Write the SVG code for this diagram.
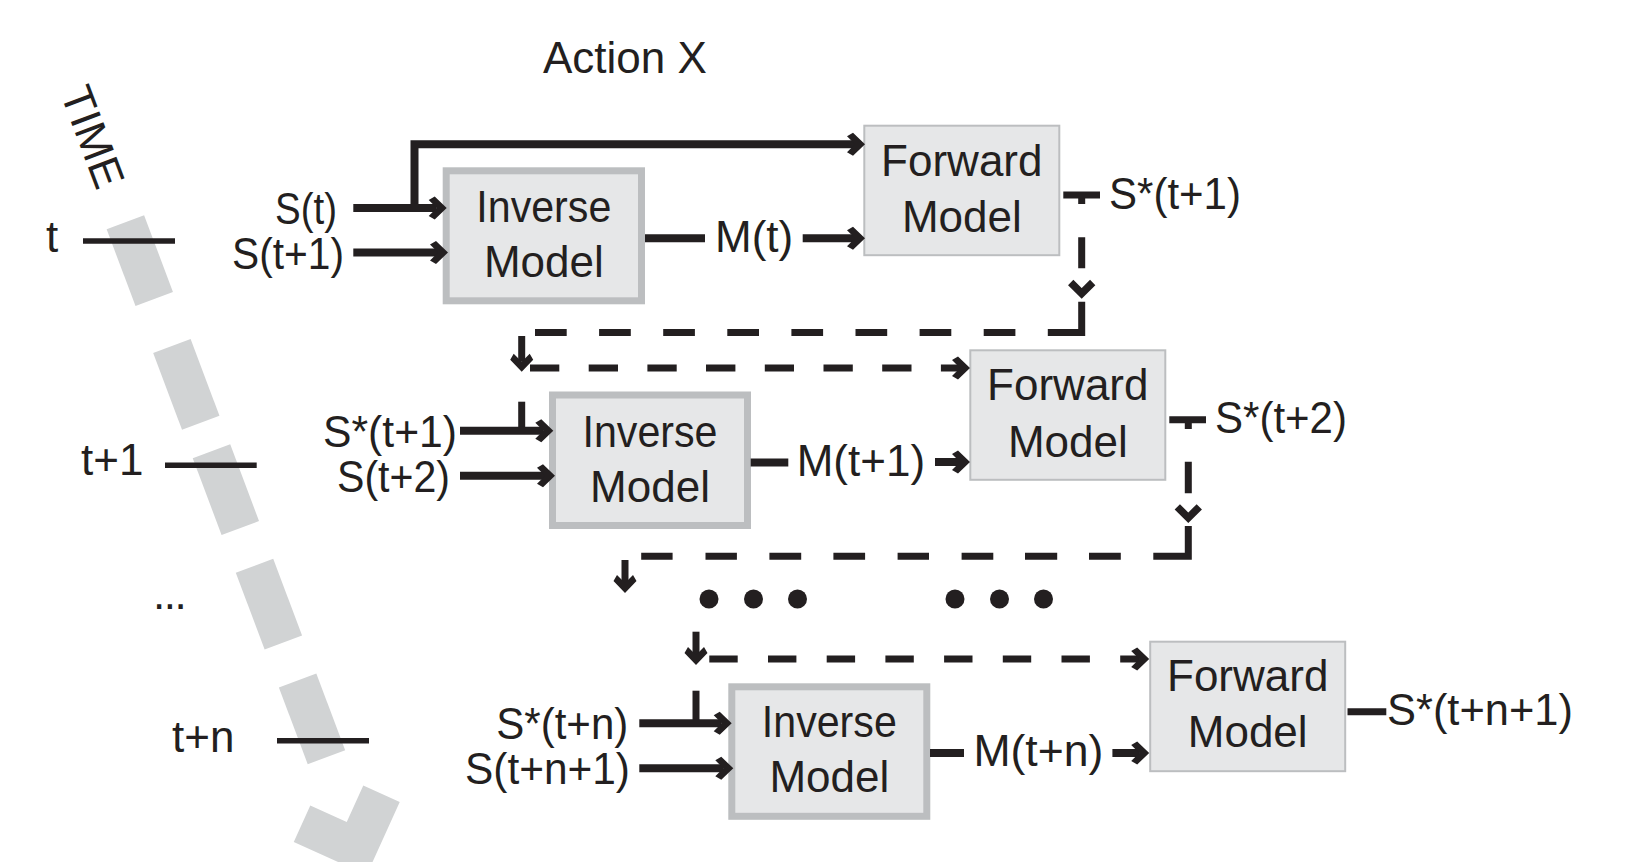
<svg xmlns="http://www.w3.org/2000/svg" width="1641" height="862" viewBox="0 0 1641 862">
<style>
.t{font-family:"Liberation Sans",Arial,sans-serif;font-size:44px;fill:#231f20}
.inv{fill:#e6e7e8;stroke:#bcbec0;stroke-width:7}
.fwd{fill:#e6e7e8;stroke:#bcbec0;stroke-width:2}
.ln{stroke:#231f20;stroke-width:8;fill:none;stroke-linejoin:miter}
.dl{stroke:#231f20;stroke-width:7;fill:none;stroke-linejoin:miter}
.tk{stroke:#231f20;stroke-width:5.5;fill:none}
.gr{fill:#d1d3d4}
.dot{fill:#231f20}
.ah{marker-end:url(#ah)}
</style>
<defs>
<marker id="ah" markerUnits="userSpaceOnUse" markerWidth="40" markerHeight="40" viewBox="-20 -20 40 40" refX="0" refY="0" orient="auto" overflow="visible">
<path d="M10,0 L-2,-11.5 L-8,-8 L0,0 L-8,8 L-2,11.5 Z" fill="#231f20"/>
</marker>
<path id="chev" d="M-11,-10.5 L0,0.5 L11,-10.5" fill="none" stroke="#231f20" stroke-width="7.5" stroke-linejoin="miter"/>
</defs>
<rect width="1641" height="862" fill="#ffffff"/>

<g id="time-arrow" transform="translate(139.8,260.6) rotate(-20.6)">
<rect class="gr" x="-20" y="-41" width="40" height="82"/>
<rect class="gr" x="-20" y="91.2" width="40" height="82"/>
<rect class="gr" x="-20" y="203.7" width="40" height="82"/>
<rect class="gr" x="-20" y="326" width="40" height="82"/>
<rect class="gr" x="-20" y="448.5" width="40" height="82"/>
<polygon class="gr" points="-32.1,570 -3.8,598.3 24.5,570 52.8,598.3 -3.8,654.9 -60.4,598.3"/>
</g>

<g id="time-labels">
<text class="t" x="60" y="93" font-size="35" transform="rotate(69.4 60 93)">TIME</text>
<path class="tk" d="M83,241 H175"/>
<text class="t" x="46" y="252">t</text>
<path class="tk" d="M165,465.3 H256.7"/>
<text class="t" x="81" y="475">t+1</text>
<text class="t" x="153" y="609" font-size="40" letter-spacing="-1.5">...</text>
<path class="tk" d="M277,740.8 H369"/>
<text class="t" x="172" y="751.5">t+n</text>
</g>

<text id="title" class="t" x="543" y="72.7">Action X</text>

<g id="inverse1">
<rect class="inv" x="446.2" y="170.8" width="195.3" height="130"/>
<text class="t" x="543.8" y="221.7" text-anchor="middle" textLength="135" lengthAdjust="spacingAndGlyphs">Inverse</text>
<text class="t" x="543.8" y="276.7" text-anchor="middle">Model</text>
</g>
<g id="forward1">
<rect class="fwd" x="864.3" y="125.7" width="195" height="129.5"/>
<text class="t" x="961.8" y="175.7" text-anchor="middle">Forward</text>
<text class="t" x="961.8" y="231.7" text-anchor="middle">Model</text>
</g>
<g id="inverse2">
<rect class="inv" x="552.5" y="395" width="195" height="130.5"/>
<text class="t" x="650" y="446.7" text-anchor="middle" textLength="135" lengthAdjust="spacingAndGlyphs">Inverse</text>
<text class="t" x="650" y="501.7" text-anchor="middle">Model</text>
</g>
<g id="forward2">
<rect class="fwd" x="970.3" y="350.3" width="195" height="129.5"/>
<text class="t" x="1067.8" y="400" text-anchor="middle">Forward</text>
<text class="t" x="1067.8" y="456.5" text-anchor="middle">Model</text>
</g>
<g id="inverse3">
<rect class="inv" x="731.8" y="686.8" width="195" height="129.5"/>
<text class="t" x="829.3" y="737" text-anchor="middle" textLength="135" lengthAdjust="spacingAndGlyphs">Inverse</text>
<text class="t" x="829.3" y="792" text-anchor="middle">Model</text>
</g>
<g id="forward3">
<rect class="fwd" x="1150.2" y="641.7" width="195" height="129.5"/>
<text class="t" x="1247.7" y="691" text-anchor="middle">Forward</text>
<text class="t" x="1247.7" y="747" text-anchor="middle">Model</text>
</g>

<g id="connectors">
<path class="ln ah" d="M353.3,208 H436.7"/>
<path class="ln ah" d="M353.3,252.5 H438"/>
<path class="ln ah" d="M414.5,208 V144.2 H855"/>
<path class="ln" d="M645,238.3 H705"/>
<path class="ln ah" d="M802.7,238.3 H855"/>
<path class="dl" d="M1063.3,195 H1100 M1081.7,195 V204"/>
<path class="dl" d="M1081.7,237.3 V268.3 M1081.7,301.7 V332.5 H1047.8 M1015.4,332.5 H983.7 M951.3,332.5 H919.6 M887.2,332.5 H855.5 M823.1,332.5 H791.4 M759,332.5 H727.3 M694.9,332.5 H663.2 M630.8,332.5 H599.1 M566.7,332.5 H535"/>
<use href="#chev" x="1081.7" y="293"/>
<path class="dl ah" d="M521.7,336 V361.7"/>
<path class="dl ah" d="M530,368 H559.3 M588.7,368 H618 M647.4,368 H676.7 M706,368 H735.4 M764.8,368 H794 M823.5,368 H852.8 M882.2,368 H911.5 M940.9,368 H960"/>
<path class="dl" d="M521.7,401.7 V430.8"/>
<path class="ln ah" d="M460,430.8 H543.3"/>
<path class="ln ah" d="M460,475.8 H545"/>
<path class="ln" d="M750.7,462.5 H788.3"/>
<path class="ln ah" d="M935,462 H960"/>
<path class="dl" d="M1169.3,419.7 H1206 M1188.3,419.7 V429"/>
<path class="dl" d="M1188.3,461.7 V493.3 M1188.3,526 V556.3 H1153.3 M1120.8,556.3 H1089 M1057.2,556.3 H1025 M993.3,556.3 H961.6 M929,556.3 H897.6 M865.1,556.3 H833.4 M801.2,556.3 H769.4 M736.9,556.3 H705.5 M672.6,556.3 H641.2"/>
<use href="#chev" x="1188.3" y="517.3"/>
<path class="dl ah" d="M625,560 V583"/>
<circle class="dot" cx="709" cy="599" r="9.5"/>
<circle class="dot" cx="753.5" cy="599" r="9.5"/>
<circle class="dot" cx="797.5" cy="599" r="9.5"/>
<circle class="dot" cx="955" cy="599" r="9.5"/>
<circle class="dot" cx="999.5" cy="599" r="9.5"/>
<circle class="dot" cx="1043.5" cy="599" r="9.5"/>
<path class="dl ah" d="M696,631.7 V655"/>
<path class="dl ah" d="M709.3,659 H737.7 M768,659 H796.4 M826.7,659 H855.1 M885.4,659 H913.8 M944.1,659 H972.5 M1002.8,659 H1031.2 M1061.5,659 H1089.9 M1120.2,659 H1139.2"/>
<path class="dl" d="M696,690.7 V723.2"/>
<path class="ln ah" d="M639.3,723.2 H721.7"/>
<path class="ln ah" d="M639.3,768.3 H723.3"/>
<path class="ln" d="M930,753 H964"/>
<path class="ln ah" d="M1112.4,753 H1139.2"/>
<path class="dl" d="M1347.5,711.7 H1386.3"/>
</g>

<g id="labels">
<text class="t" x="337" y="224" text-anchor="end" textLength="62" lengthAdjust="spacingAndGlyphs">S(t)</text>
<text class="t" x="344" y="268.5" text-anchor="end" textLength="112" lengthAdjust="spacingAndGlyphs">S(t+1)</text>
<text class="t" x="715" y="251.7">M(t)</text>
<text class="t" x="1109" y="209" textLength="132" lengthAdjust="spacingAndGlyphs">S*(t+1)</text>
<text class="t" x="457" y="447" text-anchor="end" textLength="134" lengthAdjust="spacingAndGlyphs">S*(t+1)</text>
<text class="t" x="450" y="492" text-anchor="end" textLength="113" lengthAdjust="spacingAndGlyphs">S(t+2)</text>
<text class="t" x="796.7" y="476">M(t+1)</text>
<text class="t" x="1215" y="433.3" textLength="132" lengthAdjust="spacingAndGlyphs">S*(t+2)</text>
<text class="t" x="628.3" y="738.5" text-anchor="end" textLength="132" lengthAdjust="spacingAndGlyphs">S*(t+n)</text>
<text class="t" x="630" y="784" text-anchor="end" textLength="165" lengthAdjust="spacingAndGlyphs">S(t+n+1)</text>
<text class="t" x="973.4" y="766.4" textLength="130" lengthAdjust="spacingAndGlyphs">M(t+n)</text>
<text class="t" x="1387" y="725" textLength="186" lengthAdjust="spacingAndGlyphs">S*(t+n+1)</text>
</g>
</svg>
